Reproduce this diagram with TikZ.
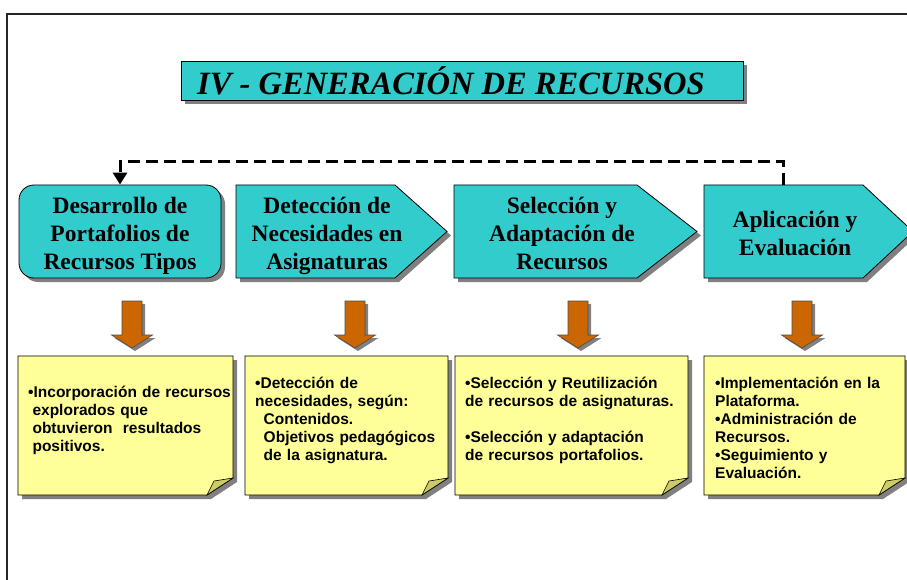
\documentclass[tikz,border=0pt]{standalone}
\usepackage{fontspec}
\setmainfont{Liberation Serif}
\newfontfamily\notefont{Liberation Sans}
\usetikzlibrary{arrows.meta,shadows}

\definecolor{tealbox}{HTML}{33CCCC}
\definecolor{notefill}{HTML}{FFFF99}
\definecolor{foldfill}{HTML}{CCCC66}
\definecolor{arrowfill}{HTML}{CC6600}
\definecolor{shadowgray}{HTML}{808080}

\tikzset{
  boxshadow/.style={drop shadow={shadow xshift=4pt,shadow yshift=-4pt,fill=shadowgray,opacity=1}},
  titlebox/.style={draw=black,line width=0.8pt,fill=tealbox,boxshadow,minimum width=562pt,minimum height=39pt,
    inner sep=0pt,font=\fontsize{32.5}{38}\selectfont\bfseries\itshape},
  stagebox/.style={draw=black,line width=0.8pt,fill=tealbox,boxshadow},
  stagetext/.style={align=center,inner sep=0pt,font=\fontsize{23.5}{28}\selectfont\bfseries},
  notebox/.style={draw=black,line width=0.8pt,fill=notefill,boxshadow},
  notetext/.style={anchor=base west,align=left,inner sep=0pt,text width=240pt,
    font=\notefont\fontsize{15.5}{18}\selectfont\bfseries},
  blockarrow/.style={draw=black!70,line width=0.6pt,fill=arrowfill,
    drop shadow={shadow xshift=3pt,shadow yshift=-3pt,fill=shadowgray,opacity=1}},
  loopback/.style={line width=3pt,dash pattern=on 12pt off 6pt,-{Triangle[width=14pt,length=12pt]}}
}

\begin{document}
\begin{tikzpicture}[x=1pt,y=-1pt]
\useasboundingbox (0,0) rectangle (907,580);

\draw[line width=2.5pt,black!85] (7,580) -- (7,14) -- (907,14);

\node[titlebox] (title) at (462,80.5) {IV - GENERACIÓN DE RECURSOS\hspace*{22pt}};

% etapas
\node[stagebox,rounded corners=15pt,minimum width=202pt,minimum height=93pt,inner sep=0pt] (s1) at (120,231.5) {};
\node[stagetext] (t1) at (120,236) {Desarrollo de\\Portafolios de\\Recursos Tipos};

\filldraw[stagebox] (236,185) -- (395,185) -- (447,231.5) -- (395,278) -- (236,278) -- cycle;
\node[stagetext] (t2) at (327,236) {Detección de\\Necesidades en\\Asignaturas};

\filldraw[stagebox] (454,185) -- (637,185) -- (697,231.5) -- (637,278) -- (454,278) -- cycle;
\node[stagetext] (t3) at (562,233) {Selección y\\Adaptación de\\Recursos};

\filldraw[stagebox] (704,185) -- (863,185) -- (913,231.5) -- (863,278) -- (704,278) -- cycle;
\node[stagetext] (t4) at (795,233) {Aplicación y\\Evaluación};

\coordinate (s4top) at (783,185);
\draw[loopback] (s4top) -- ++(0,-23) -| (s1.north);

% flechas
\foreach \x in {132,355,578,802}{
  \filldraw[blockarrow] (\x-10,301) -- (\x+10,301) -- (\x+10,335) -- (\x+20.5,335) -- (\x,348)
    -- (\x-20.5,335) -- (\x-10,335) -- cycle;
}

% notas
\foreach \l/\r in {18/233,245/448,455/688,704/905}{
  \filldraw[notebox] (\l,356) -- (\r,356) -- (\r,478) -- (\r-26,495) -- (\l,495) -- cycle;
  \filldraw[fill=foldfill,draw=black,line width=0.6pt] (\r-26,495) .. controls (\r-23,488) .. (\r-19,481)
    -- (\r,478) -- cycle;
}

\node[notetext] (n1) at (28,397) {•Incorporación de recursos\\\hspace*{0.28em}explorados que\\\hspace*{0.28em}obtuvieron\ \ resultados\\\hspace*{0.28em}positivos.};
\node[notetext] (n2) at (255,388) {•Detección de\\necesidades, según:\\\hspace*{0.55em}Contenidos.\\\hspace*{0.55em}Objetivos pedagógicos\\\hspace*{0.55em}de la asignatura.};
\node[notetext] (n3) at (465,388) {•Selección y Reutilización\\de recursos de asignaturas.\\[18pt]•Selección y adaptación\\de recursos portafolios.};
\node[notetext] (n4) at (715,388) {•Implementación en la\\Plataforma.\\•Administración de\\Recursos.\\•Seguimiento y\\Evaluación.};
\end{tikzpicture}
\end{document}
